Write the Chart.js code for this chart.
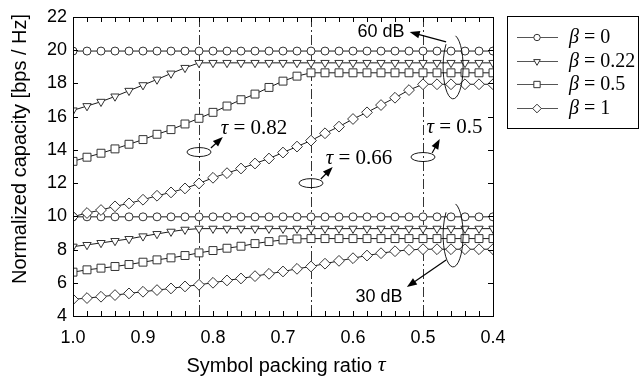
<!DOCTYPE html>
<html>
<head>
<meta charset="utf-8">
<script src="https://cdn.jsdelivr.net/npm/chart.js@4"></script>
<style>
  html, body { margin: 0; padding: 0; background: #fff; }
  #wrap { width: 644px; height: 384px; }
</style>
</head>
<body>
<div id="wrap"><canvas id="c" width="644" height="384"></canvas></div>
<script>
// packing ratio tau (x), one point every 0.02
const tau = [1.00, 0.98, 0.96, 0.94, 0.92, 0.90, 0.88, 0.86, 0.84, 0.82,
             0.80, 0.78, 0.76, 0.74, 0.72, 0.70, 0.68, 0.66, 0.64, 0.62,
             0.60, 0.58, 0.56, 0.54, 0.52, 0.50, 0.48, 0.46, 0.44, 0.42, 0.40];

// 60 dB
const b0_60   = [19.95, 19.95, 19.95, 19.95, 19.95, 19.95, 19.95, 19.95, 19.95, 19.95,
                 19.95, 19.95, 19.95, 19.95, 19.95, 19.95, 19.95, 19.95, 19.95, 19.95,
                 19.95, 19.95, 19.95, 19.95, 19.95, 19.95, 19.95, 19.95, 19.95, 19.95, 19.95];
const b022_60 = [16.38, 16.64, 16.90, 17.22, 17.56, 17.90, 18.24, 18.60, 18.94, 19.24,
                 19.24, 19.24, 19.24, 19.24, 19.24, 19.24, 19.24, 19.24, 19.24, 19.24,
                 19.24, 19.24, 19.24, 19.24, 19.24, 19.24, 19.24, 19.24, 19.24, 19.24, 19.24];
const b05_60  = [13.31, 13.56, 13.80, 14.06, 14.34, 14.62, 14.94, 15.22, 15.56, 15.90,
                 16.26, 16.64, 17.02, 17.36, 17.76, 18.14, 18.44, 18.64, 18.64, 18.64,
                 18.64, 18.64, 18.64, 18.64, 18.64, 18.64, 18.64, 18.64, 18.64, 18.64, 18.64];
const b1_60   = [9.98, 10.20, 10.38, 10.60, 10.78, 11.00, 11.24, 11.44, 11.68, 11.98,
                 12.32, 12.60, 12.88, 13.18, 13.48, 13.84, 14.20, 14.56, 15.00, 15.40,
                 15.86, 16.26, 16.70, 17.14, 17.60, 17.95, 17.95, 17.95, 17.95, 17.95, 17.95];

// 30 dB
const b0_30   = [9.97, 9.97, 9.97, 9.97, 9.97, 9.97, 9.97, 9.97, 9.97, 9.97,
                 9.97, 9.97, 9.97, 9.97, 9.97, 9.97, 9.97, 9.97, 9.97, 9.97,
                 9.97, 9.97, 9.97, 9.97, 9.97, 9.97, 9.97, 9.97, 9.97, 9.97, 9.97];
const b022_30 = [8.18, 8.28, 8.40, 8.52, 8.64, 8.80, 8.94, 9.08, 9.20, 9.26,
                 9.26, 9.26, 9.26, 9.26, 9.26, 9.26, 9.26, 9.26, 9.26, 9.26,
                 9.26, 9.26, 9.26, 9.26, 9.26, 9.26, 9.26, 9.26, 9.26, 9.26, 9.26];
const b05_30  = [6.64, 6.78, 6.88, 6.98, 7.10, 7.24, 7.38, 7.50, 7.64, 7.80,
                 7.94, 8.08, 8.20, 8.36, 8.48, 8.58, 8.64, 8.66, 8.66, 8.66,
                 8.66, 8.66, 8.66, 8.66, 8.66, 8.66, 8.66, 8.66, 8.66, 8.66, 8.66];
const b1_30   = [5.00, 5.08, 5.16, 5.26, 5.36, 5.46, 5.56, 5.66, 5.78, 5.88,
                 6.00, 6.14, 6.26, 6.40, 6.54, 6.68, 6.84, 6.98, 7.15, 7.32,
                 7.48, 7.64, 7.78, 7.90, 7.98, 8.02, 8.02, 8.02, 8.02, 8.02, 8.02];

const betaLabels = ['0', '0.22', '0.5', '1'];
const xTicks = [1.0, 0.9, 0.8, 0.7, 0.6, 0.5, 0.4];
const xTickLabels = ['1.0', '0.9', '0.8', '0.7', '0.6', '0.5', '0.4'];
const yTicks = [4, 6, 8, 10, 12, 14, 16, 18, 20, 22];
const tauMarks = [0.82, 0.66, 0.5];

// annotations, in data units
const dbNotes = [
  { text: '60 dB', tx: 0.560, ty: 21.10, tail: [0.467, 20.50], head: [0.519, 21.10], ell: [0.457, 19.0] },
  { text: '30 dB', tx: 0.563, ty: 5.14,  tail: [0.467, 7.37],  head: [0.523, 5.74],  ell: [0.457, 8.88] }
];
const tauNotes = [
  { label: '0.82', ell: [0.82, 13.87], tail: [0.803, 14.11], head: [0.786, 14.78], tx: 0.789, ty: 15.30 },
  { label: '0.66', ell: [0.66, 12.00], tail: [0.646, 12.25], head: [0.629, 12.97], tx: 0.639, ty: 13.51 },
  { label: '0.5',  ell: [0.50, 13.57], tail: [0.487, 13.81], head: [0.476, 14.65], tx: 0.495, ty: 15.32 }
];

// marker look per beta
const styles = [
  { pointStyle: 'circle',  rotation: 0,   radius: 4.0 },
  { pointStyle: 'triangle', rotation: 180, radius: 4.8 },
  { pointStyle: 'rect',    rotation: 0,   radius: 5.6 },
  { pointStyle: 'rectRot', rotation: 0,   radius: 5.4 }
];

function makeSet(values, k) {
  const s = styles[k];
  return {
    label: 'beta = ' + betaLabels[k],
    data: tau.map((t, i) => ({ x: t, y: values[i] })),
    borderColor: '#1a1a1a',
    borderWidth: 1,
    pointStyle: s.pointStyle,
    pointRotation: s.rotation,
    pointRadius: s.radius,
    pointBackgroundColor: '#fff',
    pointBorderColor: '#333',
    pointBorderWidth: 1,
    tension: 0,
    fill: false
  };
}

const datasets = [b0_60, b022_60, b05_60, b1_60].map((v, k) => makeSet(v, k))
  .concat([b0_30, b022_30, b05_30, b1_30].map((v, k) => makeSet(v, k)));

function arrow(ctx, x0, y0, x1, y1) {
  const a = Math.atan2(y1 - y0, x1 - x0);
  const L = 10, W = 3.8;
  ctx.beginPath();
  ctx.moveTo(x0, y0);
  ctx.lineTo(x1 - Math.cos(a) * L * 0.7, y1 - Math.sin(a) * L * 0.7);
  ctx.stroke();
  ctx.beginPath();
  ctx.moveTo(x1, y1);
  ctx.lineTo(x1 - Math.cos(a) * L - Math.sin(a) * W, y1 - Math.sin(a) * L + Math.cos(a) * W);
  ctx.lineTo(x1 - Math.cos(a) * L + Math.sin(a) * W, y1 - Math.sin(a) * L - Math.cos(a) * W);
  ctx.closePath();
  ctx.fill();
}

// mixed italic greek + upright text
function greekText(ctx, g, rest, x, y, size) {
  ctx.textBaseline = 'middle';
  ctx.textAlign = 'left';
  ctx.font = 'italic ' + size + 'px "Liberation Serif"';
  ctx.fillText(g, x, y);
  const w = ctx.measureText(g).width;
  ctx.font = size + 'px "Liberation Serif"';
  ctx.fillText(rest, x + w, y);
}

const decor = {
  id: 'decor',
  beforeDatasetsDraw(chart) {
    const { ctx, chartArea: a, scales: { x } } = chart;
    ctx.save();
    // dash-dot markers at the saturation points
    ctx.strokeStyle = '#333';
    ctx.lineWidth = 1;
    ctx.setLineDash([10, 3, 2, 3]);
    tauMarks.forEach(t => {
      const px = Math.round(x.getPixelForValue(t)) + 0.5;
      ctx.beginPath();
      ctx.moveTo(px, a.top);
      ctx.lineTo(px, a.bottom);
      ctx.stroke();
    });
    ctx.restore();
  },
  afterDatasetsDraw(chart) {
    const { ctx, chartArea: a, scales: { x, y } } = chart;
    ctx.save();
    // frame
    ctx.strokeStyle = '#000';
    ctx.lineWidth = 1;
    ctx.strokeRect(a.left + 0.5, a.top + 0.5, a.right - a.left, a.bottom - a.top);
    // inward ticks
    ctx.beginPath();
    for (let k = 0; k <= 30; k++) {
      const px = Math.round(x.getPixelForValue(0.4 + 0.02 * k)) + 0.5;
      ctx.moveTo(px, a.bottom); ctx.lineTo(px, a.bottom - 5);
      ctx.moveTo(px, a.top); ctx.lineTo(px, a.top + 5);
    }
    yTicks.forEach(v => {
      const py = Math.round(y.getPixelForValue(v)) + 0.5;
      ctx.moveTo(a.left, py); ctx.lineTo(a.left + 5, py);
      ctx.moveTo(a.right, py); ctx.lineTo(a.right - 5, py);
    });
    ctx.stroke();

    // axis titles
    ctx.fillStyle = '#000';
    ctx.save();
    ctx.translate(20, 149);
    ctx.rotate(-Math.PI / 2);
    ctx.font = '20px "Liberation Sans"';
    ctx.textAlign = 'center';
    ctx.textBaseline = 'middle';
    ctx.fillText('Normalized capacity [bps / Hz]', 0, 0);
    ctx.restore();

    ctx.font = '20px "Liberation Sans"';
    const xt = 'Symbol packing ratio ';
    const w1 = ctx.measureText(xt).width;
    ctx.font = 'italic 22px "Liberation Serif"';
    const w2 = ctx.measureText('\u03c4').width;
    const sx = 286 - (w1 + w2) / 2;
    ctx.textBaseline = 'middle';
    ctx.textAlign = 'left';
    ctx.font = '20px "Liberation Sans"';
    ctx.fillText(xt, sx, 366);
    ctx.font = 'italic 22px "Liberation Serif"';
    ctx.fillText('\u03c4', sx + w1, 365);

    // SNR annotations
    ctx.strokeStyle = '#000';
    ctx.fillStyle = '#000';
    ctx.lineWidth = 1.2;
    dbNotes.forEach(n => {
      ctx.font = '18px "Liberation Sans"';
      ctx.textAlign = 'center';
      ctx.textBaseline = 'middle';
      ctx.fillText(n.text, x.getPixelForValue(n.tx), y.getPixelForValue(n.ty));
      arrow(ctx, x.getPixelForValue(n.tail[0]), y.getPixelForValue(n.tail[1]),
                 x.getPixelForValue(n.head[0]), y.getPixelForValue(n.head[1]));
      ctx.lineWidth = 0.9;
      ctx.beginPath();
      ctx.ellipse(x.getPixelForValue(n.ell[0]), y.getPixelForValue(n.ell[1]), 10, 32, 0, -Math.PI * 0.42, Math.PI * 1.25);
      ctx.stroke();
      ctx.lineWidth = 1.2;
    });

    // tau annotations
    tauNotes.forEach(n => {
      ctx.lineWidth = 0.9;
      ctx.beginPath();
      ctx.ellipse(x.getPixelForValue(n.ell[0]), y.getPixelForValue(n.ell[1]), 12, 4.5, 0, 0, Math.PI * 2);
      ctx.stroke();
      ctx.lineWidth = 1.2;
      arrow(ctx, x.getPixelForValue(n.tail[0]), y.getPixelForValue(n.tail[1]),
                 x.getPixelForValue(n.head[0]), y.getPixelForValue(n.head[1]));
      greekText(ctx, '\u03c4', ' = ' + n.label, x.getPixelForValue(n.tx), y.getPixelForValue(n.ty), 21);
    });

    // legend
    ctx.lineWidth = 1;
    ctx.strokeStyle = '#000';
    ctx.strokeRect(507.5, 16.5, 131, 112);
    const rows = [37, 61, 84, 108];
    betaLabels.forEach((b, k) => {
      const ry = rows[k] + 0.5;
      ctx.strokeStyle = '#555';
      ctx.lineWidth = 1.2;
      ctx.beginPath();
      ctx.moveTo(517, ry);
      ctx.lineTo(558, ry);
      ctx.stroke();
      ctx.fillStyle = '#fff';
      ctx.strokeStyle = '#333';
      ctx.lineWidth = 1;
      Chart.helpers.drawPoint(ctx, {
        pointStyle: styles[k].pointStyle,
        rotation: styles[k].rotation,
        radius: styles[k].radius * 0.8,
        borderWidth: 1
      }, 537, ry);
      ctx.fillStyle = '#000';
      greekText(ctx, '\u03b2', ' = ' + b, 569, ry, 20);
    });
    ctx.restore();
  }
};

new Chart(document.getElementById('c'), {
  type: 'line',
  data: { datasets },
  options: {
    responsive: false,
    animation: false,
    devicePixelRatio: 1,
    layout: { padding: { left: 0, right: 151, top: 17, bottom: 0 } },
    plugins: { legend: { display: false }, tooltip: { enabled: false } },
    scales: {
      x: {
        type: 'linear',
        reverse: true,
        min: 0.4,
        max: 1.0,
        afterBuildTicks: s => { s.ticks = xTicks.map(v => ({ value: v })); },
        afterFit: s => { s.height = 68; },
        grid: { display: false, drawTicks: false },
        border: { display: false },
        ticks: {
          callback: (v, i) => xTickLabels[i],
          font: { family: 'Liberation Sans', size: 18 },
          color: '#000',
          padding: 11,
          maxRotation: 0,
          autoSkip: false
        }
      },
      y: {
        min: 4,
        max: 22,
        afterBuildTicks: s => { s.ticks = yTicks.map(v => ({ value: v })); },
        afterFit: s => { s.width = 73; },
        grid: { display: false, drawTicks: false },
        border: { display: false },
        ticks: {
          font: { family: 'Liberation Sans', size: 18 },
          color: '#000',
          padding: 6
        }
      }
    }
  },
  plugins: [decor]
});
</script>
</body>
</html>
